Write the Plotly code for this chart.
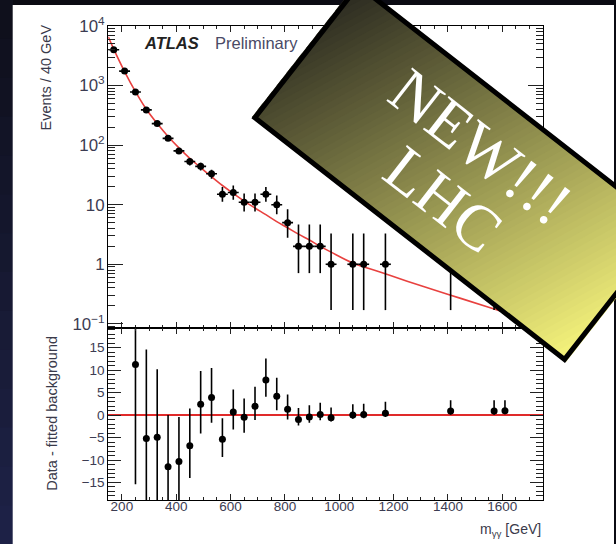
import plotly.graph_objects as go

W, H = 616, 544

# ---------------- data ----------------
bin_centers = [170, 210, 250, 290, 330, 370, 410, 450, 490, 530, 570, 610, 650, 690,
               730, 770, 810, 850, 890, 930, 970, 1050, 1090, 1170, 1410, 1570, 1610]
counts = [4000, 1750, 780, 390, 230, 130, 80, 53, 44, 33, 15, 16, 11, 11,
          15, 10, 5, 2, 2, 2, 1, 1, 1, 1, 1, 1, 1]
count_err_up = [63, 42, 28, 20, 15, 11.4, 8.9, 7.3, 6.6, 5.7, 4.9, 5.1, 4.4, 4.4,
                4.9, 4.3, 3.4, 2.64, 2.64, 2.64, 2.3, 2.3, 2.3, 2.3, 2.3, 2.3, 2.3]
count_err_down = [63, 42, 28, 20, 15, 11.4, 8.9, 7.3, 6.6, 5.7, 3.8, 3.9, 3.3, 3.3,
                  3.8, 3.1, 2.2, 1.29, 1.29, 1.29, 0.83, 0.83, 0.83, 0.83, 0.83, 0.83, 0.83]

res_centers = [250, 290, 330, 370, 410, 450, 490, 530, 570, 610, 650, 690, 730, 770,
               810, 850, 890, 930, 970, 1050, 1090, 1170, 1410, 1570, 1610]
residuals = [11.3, -5.2, -4.9, -11.5, -10.3, -6.8, 2.4, 3.9, -5.4, 0.7, -0.5, 2.0, 7.8, 4.2,
             1.3, -1.0, -0.4, 0.15, -0.6, 0.0, 0.15, 0.4, 0.9, 0.9, 1.0]
res_err_up = [26.7, 19.8, 15.1, 11.5, 9.9, 8.3, 7.4, 6.6, 4.7, 5.0, 4.2, 4.3, 4.8, 4.1,
              3.3, 2.6, 2.6, 2.6, 2.3, 2.4, 2.4, 2.6, 2.4, 2.4, 2.3]
res_err_down = [26.7, 19.8, 15.1, 11.5, 9.9, 7.2, 6.5, 5.6, 3.9, 3.9, 3.4, 3.1, 3.7, 3.1,
                2.3, 1.3, 1.3, 1.3, 0.83, 0.83, 0.83, 0.83, 0.83, 0.83, 0.83]

fit_mass = [150, 170, 210, 250, 290, 330, 370, 410, 450, 490, 530, 570, 610, 650, 690,
            730, 770, 810, 850, 890, 930, 970, 1050, 1150, 1250, 1350, 1450, 1550, 1650, 1750]
fit_events = [6600, 4100, 1720, 790, 400, 230, 140, 90, 60, 42, 29.5, 21, 15.5, 11.5, 8.8,
              6.8, 5.2, 4.1, 3.2, 2.55, 2.0, 1.6, 1.05, 0.74, 0.52, 0.37, 0.265, 0.19, 0.137, 0.1]

x_tickvals = [200, 400, 600, 800, 1000, 1200, 1400, 1600]
res_tickvals = [-15, -10, -5, 0, 5, 10, 15]

# ---------------- helpers: pixel -> paper ----------------
def px(x):
    return x / W


def py(y):
    return 1 - y / H


FONT = "Liberation Sans, Arial, sans-serif"
TICKCOL = "#3c3c52"
TICKFONT = 13.5

fig = go.Figure()

fig.add_trace(go.Scatter(
    x=fit_mass, y=fit_events, mode="lines", line=dict(color="#e8413f", width=1.6, shape="spline"),
    xaxis="x", yaxis="y", hoverinfo="skip", showlegend=False))

fig.add_trace(go.Scatter(
    x=bin_centers, y=counts, mode="markers",
    marker=dict(color="black", size=7),
    error_y=dict(type="data", array=count_err_up, arrayminus=count_err_down,
                 color="black", thickness=1.6, width=0),
    error_x=dict(type="constant", value=20, color="black", thickness=1.6, width=0),
    xaxis="x", yaxis="y", showlegend=False))

fig.add_trace(go.Scatter(
    x=res_centers, y=residuals, mode="markers",
    marker=dict(color="black", size=7),
    error_y=dict(type="data", array=res_err_up, arrayminus=res_err_down,
                 color="black", thickness=1.6, width=0),
    xaxis="x2", yaxis="y2", showlegend=False))

xdom = [px(108.3), px(543)]
common_x = dict(domain=xdom, range=[150, 1750], tickvals=x_tickvals, ticks="inside",
                ticklen=6, tickcolor="#222", showline=True, linecolor="black", linewidth=1,
                mirror="allticks", showgrid=False, zeroline=False, automargin=False,
                minor=dict(dtick=50, tick0=0, ticks="inside", ticklen=3, tickcolor="#222"))

fig.update_layout(
    template="none",
    width=W, height=H, margin=dict(l=0, r=0, t=0, b=0, pad=0, autoexpand=False),
    paper_bgcolor="#0b0b13", plot_bgcolor="rgba(0,0,0,0)",
    font=dict(family=FONT, color=TICKCOL, size=14),
    xaxis=dict(anchor="y", showticklabels=False, **common_x),
    xaxis2=dict(anchor="y2", showticklabels=True, matches="x", ticklabelstandoff=-6,
                tickfont=dict(size=TICKFONT, color=TICKCOL), **common_x),
    yaxis=dict(domain=[py(328), py(26)], type="log", range=[-1.07, 4.0], dtick=1,
               exponentformat="power", ticks="inside", ticklen=15, tickcolor="#222",
               showline=True, linecolor="black", linewidth=1, mirror="allticks",
               showgrid=False, zeroline=False, anchor="x", automargin=False,
               tickfont=dict(size=TICKFONT, color=TICKCOL),
               minor=dict(dtick="D1", ticks="inside", ticklen=7, tickcolor="#222")),
    yaxis2=dict(domain=[py(500), py(328)], range=[-18.9, 19.4], tickvals=res_tickvals,
                ticks="inside", ticklen=13, tickcolor="#222", showline=True, linecolor="black",
                linewidth=1, mirror="allticks", showgrid=False, anchor="x2", automargin=False,
                zeroline=True, zerolinecolor="#e02a2a", zerolinewidth=2,
                tickfont=dict(size=TICKFONT, color=TICKCOL),
                minor=dict(dtick=1, tick0=0, ticks="inside", ticklen=7, tickcolor="#222")),
)

shapes = []
# left bluish strip of the slide background
NB = 14
for k in range(NB):
    y0 = k * H / NB
    y1 = (k + 1) * H / NB + 1
    f = (k + 0.5) / NB
    c0 = (14, 15, 26)
    c1 = (30, 34, 72)
    col = "rgb(%d,%d,%d)" % tuple(round(a + (b - a) * f) for a, b in zip(c0, c1))
    shapes.append(dict(type="rect", xref="paper", yref="paper", x0=0, x1=px(13),
                       y0=py(y1), y1=py(y0), fillcolor=col, line=dict(width=0), layer="below"))

# white slide panel
shapes.append(dict(type="rect", xref="paper", yref="paper", x0=px(12.7), x1=px(614),
                   y0=py(H + 2), y1=py(5), fillcolor="white", line=dict(width=0), layer="below"))

# ---------------- "NEW!!! LHC" banner ----------------
L = (252.0, 117.0)
T = (357.0, -17.0)
B = (566.0, 362.0)
R = (T[0] + B[0] - L[0], T[1] + B[1] - L[1])
rect = [L, T, R, B]
D = (B[0] - T[0], B[1] - T[1])
DD = D[0] ** 2 + D[1] ** 2


def tpar(p):
    return ((p[0] - T[0]) * D[0] + (p[1] - T[1]) * D[1]) / DD


def clip(poly, f):
    out = []
    n = len(poly)
    for i in range(n):
        a = poly[i]
        b = poly[(i + 1) % n]
        fa, fb = f(a), f(b)
        if fa >= 0:
            out.append(a)
        if (fa >= 0) != (fb >= 0):
            s = fa / (fa - fb)
            out.append((a[0] + s * (b[0] - a[0]), a[1] + s * (b[1] - a[1])))
    return out


def path_of(poly):
    return "M " + " L ".join("%.5f,%.5f" % (px(x), py(y)) for x, y in poly) + " Z"


cA = (40, 39, 31)
cB = (246, 244, 124)
N = 70
for k in range(N):
    t0 = k / N - 0.004
    t1 = (k + 1) / N + 0.004
    poly = clip(rect, lambda p: tpar(p) - t0)
    poly = clip(poly, lambda p: t1 - tpar(p))
    if len(poly) < 3:
        continue
    f = (k + 0.5) / N
    col = "rgb(%d,%d,%d)" % tuple(round(a + (b - a) * f) for a, b in zip(cA, cB))
    shapes.append(dict(type="path", xref="paper", yref="paper", path=path_of(poly),
                       fillcolor=col, line=dict(width=0), layer="above"))

# border (inset so its outer edge sits on the banner edge)
cx = sum(p[0] for p in rect) / 4
cy = sum(p[1] for p in rect) / 4
inset = []
for p in rect:
    vx, vy = cx - p[0], cy - p[1]
    d = (vx ** 2 + vy ** 2) ** 0.5
    inset.append((p[0] + vx / d * 3.0, p[1] + vy / d * 3.0))
shapes.append(dict(type="path", xref="paper", yref="paper", path=path_of(inset),
                   fillcolor="rgba(0,0,0,0)", line=dict(color="black", width=5), layer="above"))

fig.update_layout(shapes=shapes)

annotations = [
    dict(text="Events / 40 GeV", x=px(45), y=py(77.5), textangle=-90,
         font=dict(size=14.5, color="#3a3a4a")),
    dict(text="Data - fitted background", x=px(51.7), y=py(413), textangle=-90,
         font=dict(size=14.5, color="#3a3a4a")),
    dict(text="m<sub>γγ</sub> [GeV]", x=px(543), y=py(530), xanchor="right",
         font=dict(size=14, color="#3a3a4a")),
    dict(text="<b><i>ATLAS</i></b>", x=px(141.7), y=py(43.3), xanchor="left",
         font=dict(size=16.5, color="#222")),
    dict(text="Preliminary", x=px(213), y=py(43.3), xanchor="left",
         font=dict(size=16.5, color="#4a4a66")),
    dict(text="NEW!!!", x=px(481.5), y=py(147.3), textangle=38,
         font=dict(family="Liberation Serif, Times New Roman, serif", size=64, color="white")),
    dict(text="LHC", x=px(443.3), y=py(199.9), textangle=38,
         font=dict(family="Liberation Serif, Times New Roman, serif", size=64, color="white")),
]
for a in annotations:
    a.setdefault("xref", "paper")
    a.setdefault("yref", "paper")
    a.setdefault("showarrow", False)
    a.setdefault("xanchor", "center")
    a.setdefault("yanchor", "middle")
fig.update_layout(annotations=annotations)

fig.write_html(
    "out.html",
    config={"displayModeBar": False, "staticPlot": True},
    post_script="document.body.style.margin='0px';"
                "document.body.style.background='#0b0b13';"
                "document.documentElement.style.overflow='hidden';",
)
